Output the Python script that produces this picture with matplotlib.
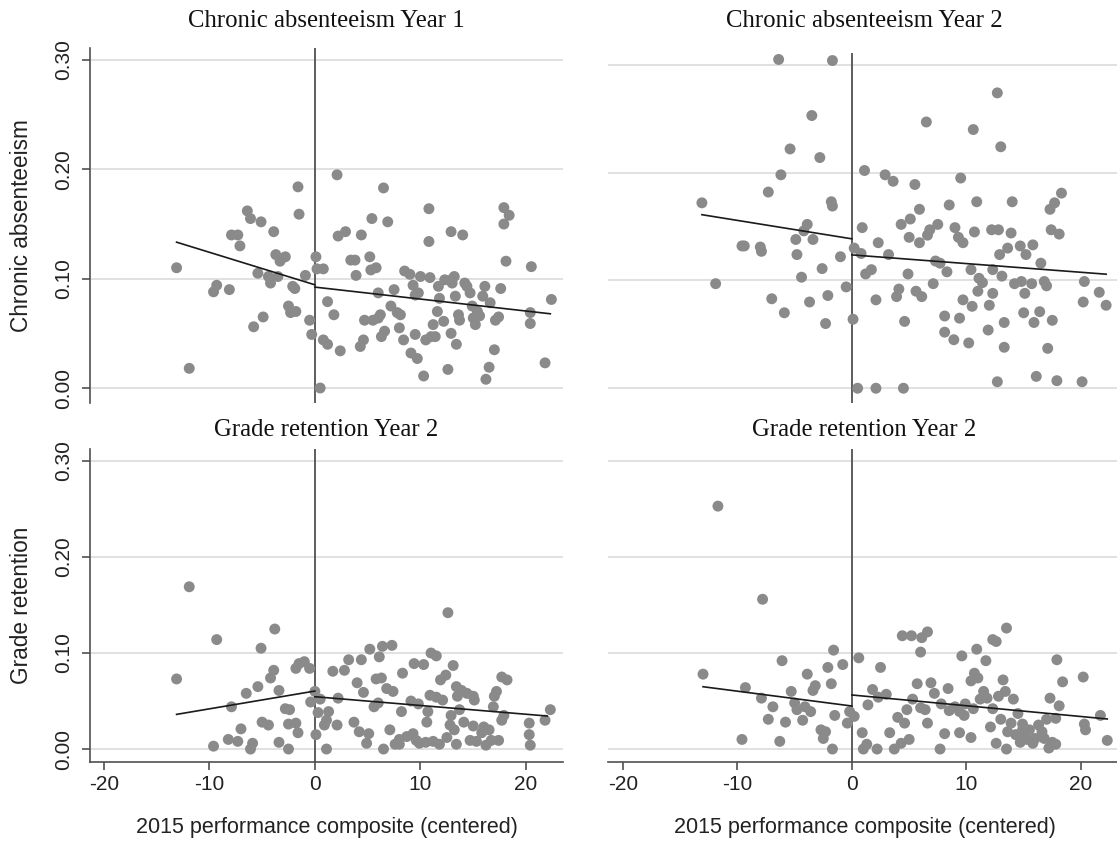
import matplotlib
matplotlib.use("Agg")
import matplotlib.pyplot as plt

W, H = 1117, 842

# panel data: (x = 2015 performance composite centered, y = outcome)
TL_X = [-13.1, -11.9, -9.6, -9.3, -8.1, -7.9, -7.3, -7.1, -6.4, -6.1, -5.1, -5.8, -4.9, -5.4, -4.4,
        -4.2, -3.9, -3.7, -3.3, -2.8, -3.5, -2.5, -2.3, -1.8, -2.1, -1.9, -1.6, -1.5, -0.9, -0.5,
        -0.3, 0.1, 0.2, 0.8, 0.5, 1.2, 0.8, 1.2, 1.8, 2.1, 2.2, 2.9, 2.4, 3.4, 3.8,
        3.9, 4.4, 4.3, 4.6, 4.7, 5.2, 5.3, 5.8, 5.4, 5.5, 6.0, 6.2, 6.0, 6.3, 6.6,
        6.9, 6.5, 7.2, 7.5, 7.8, 8.1, 8.0, 8.4, 8.5, 9.0, 9.3, 9.5, 9.1, 9.7, 9.5,
        10.0, 10.3, 10.5, 10.8, 10.8, 10.9, 11.0, 11.2, 11.6, 11.7, 11.8, 12.2, 12.3, 12.6, 12.9,
        12.9, 13.0, 13.2, 12.9, 13.4, 13.3, 13.6, 13.7, 14.0, 14.2, 14.4, 14.7, 14.9, 15.0, 15.2,
        15.6, 15.9, 16.1, 16.2, 16.5, 16.6, 17.0, 17.1, 17.4, 17.6, 17.9, 17.9, 18.4, 18.1, 20.4,
        20.4, 20.5, 21.8, 22.4, 15.4, 9.8, 11.4]
TL_Y = [0.110, 0.018, 0.088, 0.094, 0.090, 0.140, 0.140, 0.130, 0.162, 0.155, 0.152, 0.056, 0.065, 0.105, 0.102,
        0.096, 0.143, 0.122, 0.116, 0.120, 0.102, 0.075, 0.069, 0.070, 0.093, 0.091, 0.184, 0.159, 0.103, 0.062,
        0.049, 0.120, 0.109, 0.109, 0.000, 0.079, 0.044, 0.040, 0.067, 0.195, 0.139, 0.143, 0.034, 0.117, 0.117,
        0.103, 0.140, 0.038, 0.044, 0.062, 0.120, 0.108, 0.110, 0.155, 0.062, 0.064, 0.067, 0.087, 0.047, 0.052,
        0.152, 0.183, 0.075, 0.090, 0.069, 0.067, 0.055, 0.044, 0.107, 0.104, 0.094, 0.085, 0.032, 0.027, 0.049,
        0.102, 0.011, 0.044, 0.164, 0.134, 0.101, 0.047, 0.058, 0.070, 0.093, 0.082, 0.061, 0.099, 0.017, 0.143,
        0.099, 0.096, 0.102, 0.050, 0.040, 0.084, 0.067, 0.062, 0.140, 0.096, 0.093, 0.087, 0.075, 0.064, 0.058,
        0.066, 0.084, 0.093, 0.008, 0.019, 0.078, 0.035, 0.062, 0.065, 0.091, 0.165, 0.150, 0.158, 0.116, 0.069,
        0.059, 0.111, 0.023, 0.081, 0.070, 0.087, 0.047]

TR_X = [-13.1, -11.9, -9.6, -9.4, -8.0, -7.9, -7.3, -7.0, -6.4, -6.2, -5.9, -5.4, -4.9, -4.8, -4.4,
        -3.9, -4.2, -3.7, -3.5, -3.4, -2.8, -2.6, -2.3, -2.1, -1.8, -1.7, -1.7, -1.0, -0.5, 0.1,
        0.2, 0.5, 0.9, 1.1, 0.8, 1.2, 1.7, 2.1, 2.1, 2.3, 2.9, 3.2, 3.6, 3.9, 4.1,
        4.3, 4.5, 4.6, 4.9, 5.1, 5.0, 5.5, 5.6, 5.9, 5.9, 6.1, 6.5, 6.6, 6.8, 7.1,
        7.3, 7.5, 7.7, 8.1, 8.1, 8.3, 8.5, 8.9, 9.0, 9.3, 9.4, 9.5, 9.7, 9.7, 10.2,
        10.5, 10.4, 10.7, 10.6, 10.9, 11.0, 11.1, 11.4, 11.9, 12.0, 12.2, 12.3, 12.3, 12.7, 12.7,
        12.8, 12.9, 13.0, 13.1, 13.3, 13.3, 13.6, 13.9, 14.0, 14.2, 14.7, 14.8, 15.0, 15.1, 15.2,
        15.7, 15.8, 15.9, 16.1, 16.4, 16.5, 16.8, 17.0, 17.1, 17.3, 17.4, 17.5, 17.7, 17.9, 18.1,
        18.3, 20.1, 20.3, 20.2, 21.6, 22.2]
TR_Y = [0.172, 0.097, 0.132, 0.132, 0.131, 0.127, 0.182, 0.083, 0.305, 0.198, 0.070, 0.222, 0.138, 0.124, 0.103,
        0.152, 0.146, 0.080, 0.253, 0.138, 0.214, 0.111, 0.060, 0.086, 0.173, 0.169, 0.304, 0.122, 0.094, 0.064,
        0.130, 0.000, 0.149, 0.202, 0.125, 0.106, 0.110, 0.000, 0.082, 0.135, 0.198, 0.124, 0.192, 0.085, 0.092,
        0.152, 0.000, 0.062, 0.106, 0.157, 0.140, 0.189, 0.090, 0.135, 0.166, 0.085, 0.247, 0.142, 0.147, 0.097,
        0.118, 0.152, 0.116, 0.067, 0.052, 0.108, 0.170, 0.045, 0.149, 0.140, 0.065, 0.195, 0.135, 0.082, 0.042,
        0.076, 0.110, 0.145, 0.240, 0.173, 0.090, 0.102, 0.098, 0.054, 0.077, 0.147, 0.088, 0.110, 0.006, 0.274,
        0.147, 0.124, 0.224, 0.104, 0.061, 0.038, 0.130, 0.144, 0.173, 0.097, 0.132, 0.099, 0.070, 0.088, 0.124,
        0.097, 0.133, 0.061, 0.011, 0.071, 0.116, 0.099, 0.095, 0.037, 0.166, 0.147, 0.063, 0.172, 0.007, 0.143,
        0.181, 0.006, 0.099, 0.080, 0.089, 0.077]

BL_X = [-13.1, -11.9, -9.3, -9.6, -8.2, -7.9, -7.3, -7.0, -6.5, -6.1, -5.9, -5.4, -5.1, -5.0, -4.4,
        -4.2, -3.9, -3.8, -3.4, -3.4, -2.8, -2.4, -2.5, -2.5, -1.8, -1.6, -1.8, -1.5, -1.0, -0.5,
        -0.4, 0.0, 0.1, 0.3, 0.5, 0.9, 1.1, 1.1, 1.3, 1.7, 2.1, 2.2, 2.8, 3.2, 3.7,
        4.0, 4.2, 4.4, 4.6, 4.9, 5.1, 5.2, 5.6, 5.8, 6.0, 6.1, 6.3, 6.5, 6.4, 6.8,
        7.1, 7.3, 7.4, 7.6, 8.0, 8.2, 8.3, 8.7, 9.1, 9.3, 9.4, 9.6, 9.8, 9.9, 10.3,
        10.5, 10.6, 10.7, 10.9, 11.0, 11.2, 11.5, 11.5, 11.9, 12.1, 12.4, 12.5, 12.6, 12.8, 12.9,
        13.1, 13.2, 13.4, 13.4, 13.5, 13.7, 13.9, 14.1, 14.4, 14.7, 15.0, 15.0, 15.1, 15.3, 15.8,
        16.0, 16.2, 16.5, 16.7, 16.9, 17.0, 17.2, 17.4, 17.7, 17.7, 17.9, 18.2, 20.3, 20.3, 20.4,
        21.8, 22.3, 8.0, 11.8]
BL_Y = [0.073, 0.169, 0.114, 0.003, 0.010, 0.044, 0.008, 0.021, 0.058, 0.000, 0.006, 0.065, 0.105, 0.028, 0.025,
        0.074, 0.082, 0.125, 0.061, 0.007, 0.042, 0.041, 0.000, 0.026, 0.027, 0.017, 0.084, 0.089, 0.091, 0.084,
        0.049, 0.060, 0.015, 0.038, 0.052, 0.025, 0.030, 0.000, 0.039, 0.081, 0.025, 0.053, 0.082, 0.093, 0.028,
        0.069, 0.018, 0.093, 0.059, 0.006, 0.016, 0.104, 0.044, 0.073, 0.048, 0.096, 0.074, 0.000, 0.107, 0.063,
        0.020, 0.108, 0.060, 0.005, 0.010, 0.039, 0.079, 0.013, 0.050, 0.016, 0.089, 0.009, 0.047, 0.006, 0.088,
        0.007, 0.028, 0.039, 0.056, 0.100, 0.008, 0.097, 0.054, 0.072, 0.051, 0.077, 0.012, 0.142, 0.025, 0.035,
        0.087, 0.020, 0.065, 0.005, 0.055, 0.041, 0.061, 0.028, 0.058, 0.009, 0.055, 0.024, 0.051, 0.008, 0.017,
        0.023, 0.004, 0.020, 0.009, 0.044, 0.055, 0.060, 0.009, 0.030, 0.075, 0.035, 0.072, 0.027, 0.015, 0.004,
        0.030, 0.041, 0.005, 0.005]

BR_X = [-13.0, -11.7, -9.6, -9.3, -7.9, -7.8, -7.3, -6.9, -6.3, -6.1, -5.8, -5.3, -5.0, -4.8, -4.3,
        -4.1, -3.9, -3.6, -3.4, -3.2, -2.7, -2.5, -2.3, -2.1, -1.8, -1.6, -1.7, -1.5, -0.8, -0.4,
        -0.2, 0.2, 0.6, 0.9, 1.0, 1.3, 1.4, 1.8, 2.2, 2.3, 2.5, 3.0, 3.3, 3.7, 4.0,
        4.3, 4.4, 4.6, 4.8, 5.0, 5.2, 5.3, 5.7, 6.0, 6.0, 6.1, 6.4, 6.6, 6.6, 6.9,
        7.2, 7.7, 7.8, 8.1, 8.4, 8.5, 9.0, 9.4, 9.4, 9.6, 9.8, 9.9, 10.4, 10.4, 10.6,
        10.7, 10.9, 11.0, 11.2, 11.5, 11.7, 11.8, 12.1, 12.3, 12.3, 12.6, 12.6, 12.8, 13.0, 13.2,
        13.4, 13.5, 13.5, 13.6, 13.9, 14.1, 14.3, 14.5, 14.7, 14.9, 15.1, 15.3, 15.5, 15.8, 16.0,
        16.3, 16.6, 16.8, 17.0, 17.2, 17.3, 17.5, 17.8, 17.9, 18.1, 18.4, 20.2, 20.3, 20.4, 21.7,
        22.3, 14.9, 17.8]
BR_Y = [0.078, 0.253, 0.010, 0.064, 0.053, 0.156, 0.031, 0.044, 0.008, 0.092, 0.028, 0.060, 0.048, 0.041, 0.030,
        0.044, 0.078, 0.039, 0.061, 0.066, 0.020, 0.011, 0.018, 0.085, 0.068, 0.103, 0.000, 0.035, 0.088, 0.027,
        0.039, 0.034, 0.095, 0.017, 0.000, 0.005, 0.046, 0.062, 0.000, 0.054, 0.085, 0.057, 0.017, 0.000, 0.033,
        0.006, 0.118, 0.027, 0.041, 0.010, 0.118, 0.052, 0.068, 0.043, 0.101, 0.116, 0.041, 0.122, 0.027, 0.069,
        0.058, 0.000, 0.047, 0.016, 0.063, 0.040, 0.044, 0.017, 0.039, 0.097, 0.035, 0.047, 0.071, 0.012, 0.042,
        0.079, 0.104, 0.074, 0.052, 0.060, 0.092, 0.053, 0.023, 0.042, 0.114, 0.112, 0.006, 0.055, 0.031, 0.072,
        0.060, 0.126, 0.000, 0.018, 0.027, 0.052, 0.015, 0.037, 0.007, 0.026, 0.015, 0.010, 0.020, 0.006, 0.011,
        0.025, 0.018, 0.011, 0.031, 0.001, 0.053, 0.007, 0.032, 0.093, 0.045, 0.070, 0.075, 0.026, 0.020, 0.035,
        0.009, 0.020, 0.005]

# fitted lines left / right of the cutoff: x ends, y ends
TL_FIT = [([-13.1, 0], [0.1334, 0.0944]), ([0, 22.3], [0.0923, 0.0679])]
TR_FIT = [([-13.1, 0], [0.161, 0.1386]), ([0, 22.2], [0.1237, 0.1058])]
BL_FIT = [([-13.1, 0], [0.0361, 0.0604]), ([0, 22.0], [0.0545, 0.0344])]
BR_FIT = [([-13.0, 0], [0.0649, 0.0448]), ([0, 22.3], [0.0563, 0.0313])]

TITLES = ["Chronic absenteeism Year 1", "Chronic absenteeism Year 2",
          "Grade retention Year 2", "Grade retention Year 2"]
YLABELS = ["Chronic absenteeism", "Grade retention"]
XLABEL = "2015 performance composite (centered)"
YTICKS = [0.0, 0.1, 0.2, 0.3]
YTICKLABELS = ["0.00", "0.10", "0.20", "0.30"]
XTICKS = [-20, -10, 0, 10, 20]

DOT = "#8a8a8a"
AXIS = "#505050"
GRID = "#dcdcdc"
SANS = "Liberation Sans"
SERIF = "Liberation Serif"


def rect(x0, y0, x1, y1):
    return [x0 / W, 1 - y1 / H, (x1 - x0) / W, (y1 - y0) / H]


def panel(fig, box, xs, ys, fit, title, title_y, ylim, left, bottom, ylabel=None):
    ax = fig.add_axes(rect(*box))
    ax.set_xlim(-21.3, 23.5)
    ax.set_ylim(*ylim)
    ax.set_yticks(YTICKS)
    ax.yaxis.grid(True, color=GRID, lw=1.2)
    ax.set_axisbelow(True)
    for s in ["top", "right"]:
        ax.spines[s].set_visible(False)
    ax.spines["left"].set_visible(left)
    ax.spines["bottom"].set_visible(bottom)
    for s in ["left", "bottom"]:
        ax.spines[s].set_color(AXIS)
        ax.spines[s].set_linewidth(1.2)

    if left:
        ax.set_yticklabels(YTICKLABELS, rotation=90, va="center", fontsize=15, family=SANS, color="#222222")
        ax.tick_params(axis="y", length=6, width=1.2, color=AXIS, pad=6)
        ax.set_ylabel(ylabel, fontsize=16.3, family=SANS, color="#222222")
        ax.yaxis.set_label_coords((33 - box[0]) / (box[2] - box[0]), 0.5)
    else:
        ax.tick_params(axis="y", left=False, labelleft=False)

    if bottom:
        ax.set_xticks(XTICKS)
        ax.set_xticklabels([str(t) for t in XTICKS], fontsize=15, family=SANS, color="#222222")
        ax.tick_params(axis="x", length=6, width=1.2, color=AXIS, pad=3)
        ax.set_xlabel(XLABEL, fontsize=15.5, family=SANS, color="#222222")
        ax.xaxis.set_label_coords(0.5, -(817 - box[3]) / (box[3] - box[1]))
    else:
        ax.tick_params(axis="x", bottom=False, labelbottom=False)

    ax.axvline(0, color=AXIS, lw=1.3, zorder=2)
    ax.scatter(xs, ys, s=62, color=DOT, edgecolors="none", zorder=3)
    for fx, fy in fit:
        ax.plot(fx, fy, color="#1a1a1a", lw=1.2, zorder=4)

    cx = (box[0] + box[2]) / 2
    fig.text(cx / W, 1 - title_y / H, title, ha="center", va="center",
             fontsize=17.8, family=SERIF, color="#111111")
    return ax


fig = plt.figure(figsize=(W / 100, H / 100), dpi=100)
fig.patch.set_facecolor("white")

top_lim = (-0.0137, 0.311)
bot_lim = (-0.0135, 0.3125)

panel(fig, (90, 48, 563, 403), TL_X, TL_Y, TL_FIT, TITLES[0], 21, top_lim, True, False, YLABELS[0])
panel(fig, (608, 53, 1121, 403), TR_X, TR_Y, TR_FIT, TITLES[1], 21, top_lim, False, False)
panel(fig, (90, 449, 563, 762), BL_X, BL_Y, BL_FIT, TITLES[2], 430, bot_lim, True, True, YLABELS[1])
panel(fig, (608, 449, 1121, 762), BR_X, BR_Y, BR_FIT, TITLES[3], 430, bot_lim, False, True)

fig.savefig("out.png", dpi=100)
